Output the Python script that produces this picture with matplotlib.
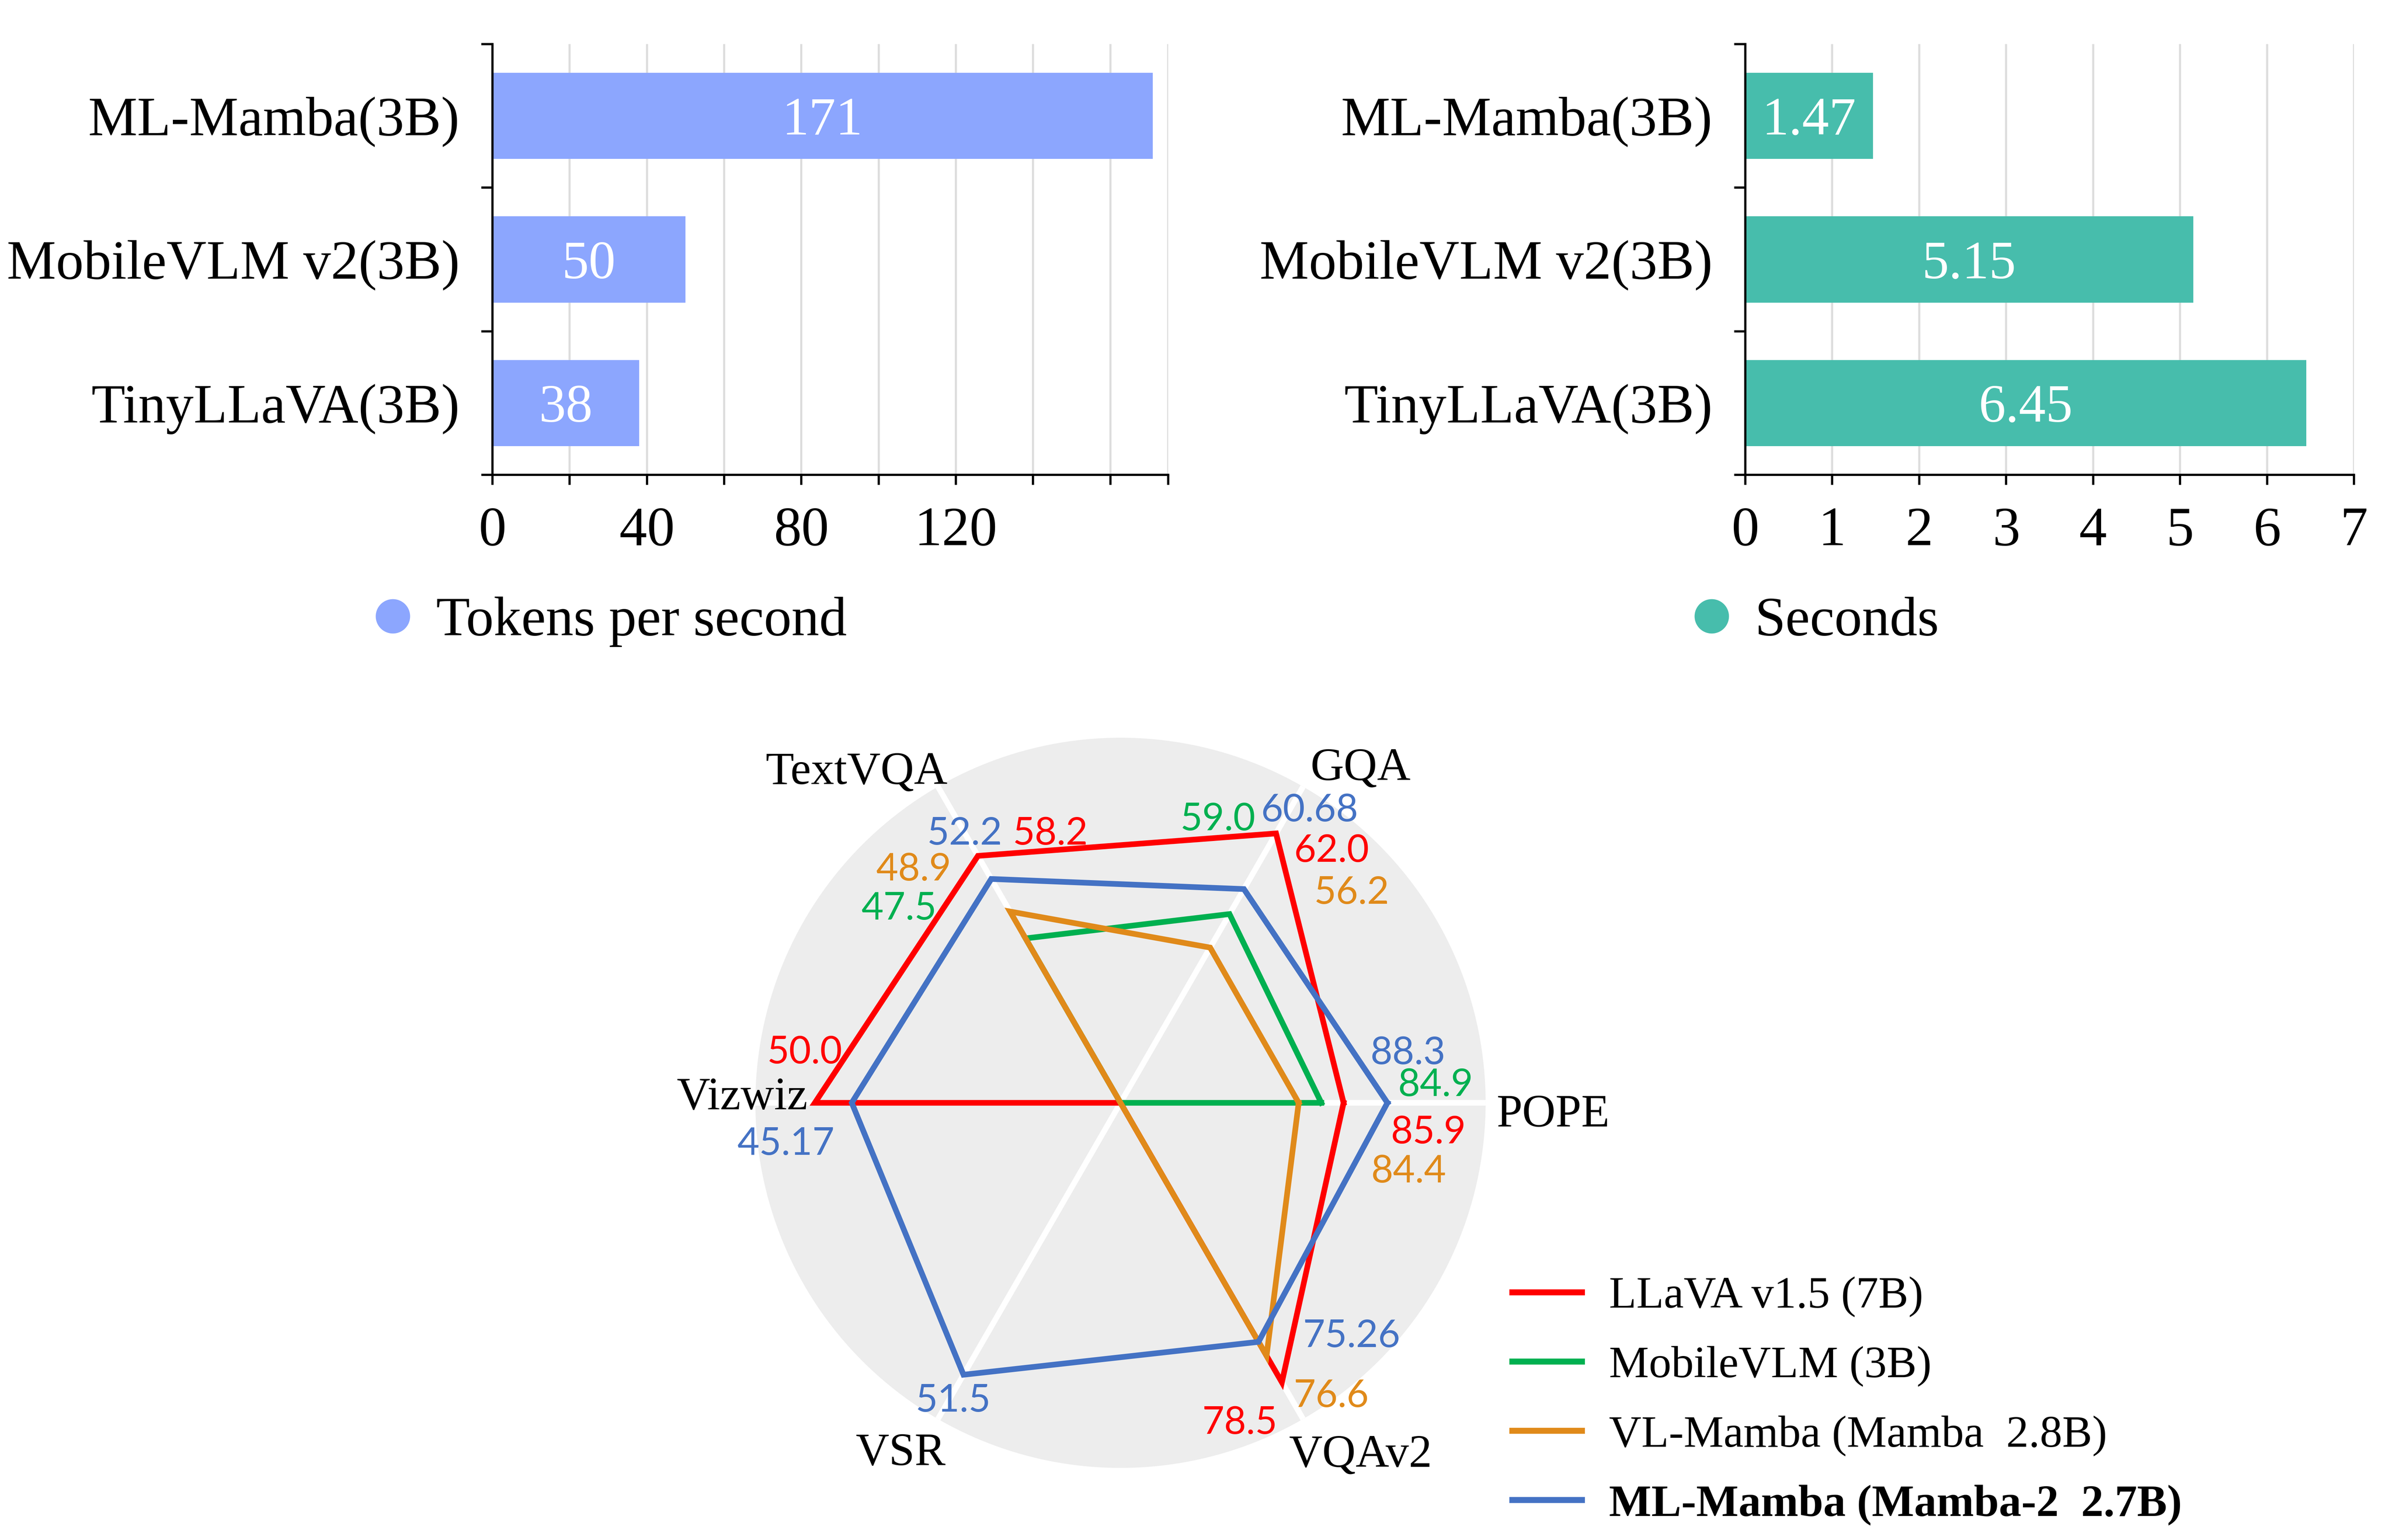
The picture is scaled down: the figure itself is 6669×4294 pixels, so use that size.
import matplotlib
matplotlib.use('Agg')
import matplotlib.pyplot as plt
import numpy as np
from matplotlib.lines import Line2D

plt.rcParams['font.family'] = ['Liberation Serif', 'DejaVu Serif']

# ---------------- data ----------------
speed_models = ['ML-Mamba(3B)', 'MobileVLM v2(3B)', 'TinyLLaVA(3B)']
tokens_per_second = [171, 50, 38]
tokens_labels = ['171', '50', '38']
latency_seconds = [1.47, 5.15, 6.45]
latency_labels = ['1.47', '5.15', '6.45']

token_ticks = [0, 20, 40, 60, 80, 100, 120, 140, 160, 175]
token_ticklabels = ['0', '', '40', '', '80', '', '120', '', '', '']
second_ticks = [0, 1, 2, 3, 4, 5, 6, 7]
second_ticklabels = ['0', '1', '2', '3', '4', '5', '6', '7']

benchmarks = ['POPE', 'GQA', 'TextVQA', 'Vizwiz', 'VSR', 'VQAv2']
benchmark_angles_deg = [0, 60, 120, 180, 240, 300]
radar_models = ['LLaVA v1.5 (7B)', 'MobileVLM (3B)',
                'VL-Mamba (Mamba  2.8B)', 'ML-Mamba (Mamba-2  2.7B)']

# reported scores ('' = not reported)
scores_llava = ['85.9', '62.0', '58.2', '50.0', '', '78.5']
scores_mobilevlm = ['84.9', '59.0', '47.5', '', '', '']
scores_vlmamba = ['84.4', '56.2', '48.9', '', '', '76.6']
scores_mlmamba = ['88.3', '60.68', '52.2', '45.17', '51.5', '75.26']

# normalised radial values as drawn in the chart (0 = not reported)
radius_llava = [0.611, 0.852, 0.781, 0.837, 0.0, 0.884]
radius_mobilevlm = [0.550, 0.597, 0.520, 0.0, 0.0, 0.0]
radius_vlmamba = [0.488, 0.491, 0.605, 0.0, 0.0, 0.800]
radius_mlmamba = [0.731, 0.676, 0.708, 0.736, 0.860, 0.756]

# ---------------- styles / layout ----------------
BAR_BLUE = '#8CA6FE'
BAR_TEAL = '#47BDAC'
C_RED = '#FF0000'
C_GREEN = '#00B050'
C_ORANGE = '#E08A1A'
C_BLUE = '#4472C4'

W, H = 6669, 4294
DPI = 300
fig = plt.figure(figsize=(W / DPI, H / DPI), dpi=DPI)


def px_box(x0, y0, x1, y1):
    return [x0 / W, 1 - y1 / H, (x1 - x0) / W, (y1 - y0) / H]


def bar_panel(ax, values, labels, color, ticks, ticklabels, xmax):
    y = np.arange(len(speed_models))
    ax.barh(y, values, height=0.6, color=color, zorder=2)
    ax.set_ylim(2.5, -0.5)
    ax.set_xlim(0, xmax)
    ax.set_xticks(ticks)
    ax.set_xticklabels(ticklabels)
    ax.set_yticks([-0.5, 0.5, 1.5, 2.5])
    ax.set_yticklabels([])
    ax.set_yticks(y, speed_models, minor=True)
    ax.tick_params(axis='y', which='major', length=7.4, width=1.5, direction='out')
    ax.tick_params(axis='y', which='minor', length=0, pad=22, labelsize=37)
    ax.tick_params(axis='x', which='major', length=6.8, width=1.5, pad=14.5, labelsize=37)
    ax.grid(axis='x', color='#DDDDDD', lw=1.4, zorder=0)
    ax.set_axisbelow(True)
    for s in ['top', 'right']:
        ax.spines[s].set_visible(False)
    for s in ['left', 'bottom']:
        ax.spines[s].set_linewidth(1.5)
    for i, (v, t) in enumerate(zip(values, labels)):
        ax.text(v / 2, i, t, color='white', ha='center', va='center_baseline',
                fontsize=36, zorder=3)


ax1 = fig.add_axes(px_box(1373, 123, 3257, 1324))
bar_panel(ax1, tokens_per_second, tokens_labels, BAR_BLUE, token_ticks, token_ticklabels, 175)
ax2 = fig.add_axes(px_box(4866, 123, 6563, 1324))
bar_panel(ax2, latency_seconds, latency_labels, BAR_TEAL, second_ticks, second_ticklabels, 7)

for color, text, xl in [(BAR_BLUE, 'Tokens per second', 1049), (BAR_TEAL, 'Seconds', 4726)]:
    h = Line2D([], [], marker='o', ls='none', markersize=22, color=color)
    fig.legend(handles=[h], labels=[text], loc='center left',
               bbox_to_anchor=(xl / W, 1 - 1734 / H), frameon=False, fontsize=37,
               handlelength=0.6, handletextpad=0.48, borderpad=0, borderaxespad=0)

# ---------------- radar ----------------
cx, cy, R = 3124, 3075, 1018
axr = fig.add_axes(px_box(cx - R, cy - R, cx + R, cy + R), projection='polar')
axr.set_facecolor('#EDEDED')
axr.set_ylim(0, 1)
axr.set_yticks([])
axr.set_thetagrids(benchmark_angles_deg, [''] * 6)
axr.xaxis.grid(True, color='white', lw=3.8)
axr.spines['polar'].set_visible(False)

theta = np.deg2rad(benchmark_angles_deg)
series = [
    (radius_llava, scores_llava, C_RED),
    (radius_mobilevlm, scores_mobilevlm, C_GREEN),
    (radius_vlmamba, scores_vlmamba, C_ORANGE),
    (radius_mlmamba, scores_mlmamba, C_BLUE),
]
for (rad, sc, col), name in zip(series, radar_models):
    th = np.append(theta, theta[0])
    rr = np.append(rad, rad[0])
    axr.plot(th, rr, color=col, lw=3.8, label=name, solid_joinstyle='miter')

# label placement (angle deg, radius) for each score label
label_pos = {
    (0, 0): (-4.9, 0.847), (0, 1): (50.4, 0.907), (0, 2): (104.5, 0.770),
    (0, 3): (170.4, 0.878), (0, 5): (290.6, 0.928),
    (1, 0): (3.8, 0.865), (1, 1): (71.3, 0.829), (1, 2): (138.3, 0.812),
    (2, 0): (-12.8, 0.810), (2, 1): (42.7, 0.861), (2, 2): (131.2, 0.860),
    (2, 5): (306.0, 0.982),
    (3, 0): (10.4, 0.801), (3, 1): (57.4, 0.961), (3, 2): (119.8, 0.859),
    (3, 3): (186.5, 0.922), (3, 4): (240.4, 0.929), (3, 5): (315.1, 0.893),
}
for mi, (rad, sc, col) in enumerate(series):
    for bi, s in enumerate(sc):
        if not s:
            continue
        a, r = label_pos[(mi, bi)]
        axr.text(np.deg2rad(a), r, s, color=col, fontsize=25.5, family=['Lato', 'DejaVu Sans'],
                 ha='center', va='center_baseline')

axis_label_pos = [(-1.0, 1.185, 'center'), (54.7, 1.138, 'center'), (128.2, 1.168, 'center'),
                  (178.2, 0.857, 'right'), (237.6, 1.123, 'center'), (304.6, 1.157, 'center')]
for name, (a, r, ha) in zip(benchmarks, axis_label_pos):
    axr.text(np.deg2rad(a), r, name, fontsize=31, ha=ha, va='center_baseline', color='black')

handles = [Line2D([], [], color=c, lw=4.0) for c in [C_RED, C_GREEN, C_ORANGE, C_BLUE]]
leg = fig.legend(handles=handles, labels=radar_models, loc='center left',
                 bbox_to_anchor=(4216 / W, 1 - 3906 / H), frameon=False, fontsize=30,
                 handlelength=1.55, handletextpad=0.61, labelspacing=0.63,
                 borderpad=0, borderaxespad=0)
leg.get_texts()[-1].set_fontweight('bold')

fig.savefig('out.png', dpi=DPI)
